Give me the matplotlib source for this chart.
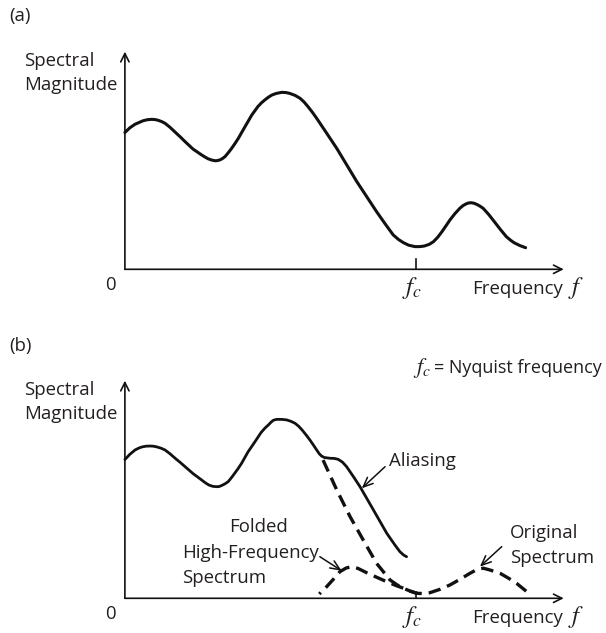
import matplotlib
matplotlib.use("Agg")
import matplotlib.pyplot as plt

plt.rcParams['font.family'] = ['Open Sans', 'DejaVu Sans']
plt.rcParams['mathtext.fontset'] = 'stix'
plt.rcParams['lines.scale_dashes'] = False

# ---------------- data (f in units of fc, magnitude in arbitrary units) -------------
# Panel (a): original spectrum
a_f = [0.000, 0.017, 0.035, 0.062, 0.077, 0.092, 0.103, 0.114, 0.126, 0.138,
       0.155, 0.172, 0.190, 0.207, 0.234, 0.264, 0.276, 0.286, 0.298, 0.310,
       0.318, 0.327, 0.335, 0.344, 0.354, 0.365, 0.378, 0.390, 0.413, 0.436,
       0.457, 0.470, 0.481, 0.493, 0.505, 0.520, 0.539, 0.553, 0.567, 0.585,
       0.602, 0.616, 0.629, 0.644, 0.659, 0.693, 0.728, 0.797, 0.865, 0.895,
       0.922, 0.940, 0.956, 0.975, 0.997, 1.013, 1.028, 1.045, 1.060, 1.075,
       1.090, 1.104, 1.117, 1.134, 1.151, 1.162, 1.172, 1.180, 1.189, 1.200,
       1.210, 1.220, 1.231, 1.250, 1.268, 1.290, 1.311, 1.325, 1.337, 1.357,
       1.377]
a_mag = [0.760, 0.786, 0.806, 0.825, 0.831, 0.833, 0.832, 0.828, 0.821, 0.811,
         0.789, 0.763, 0.736, 0.709, 0.668, 0.635, 0.623, 0.614, 0.607, 0.603,
         0.604, 0.608, 0.615, 0.626, 0.645, 0.668, 0.698, 0.728, 0.793, 0.857,
         0.904, 0.926, 0.941, 0.956, 0.968, 0.977, 0.983, 0.982, 0.977, 0.966,
         0.950, 0.929, 0.904, 0.873, 0.839, 0.757, 0.672, 0.487, 0.320, 0.251,
         0.191, 0.166, 0.149, 0.134, 0.126, 0.126, 0.129, 0.138, 0.153, 0.178,
         0.210, 0.243, 0.274, 0.309, 0.339, 0.354, 0.363, 0.368, 0.370, 0.367,
         0.360, 0.351, 0.339, 0.305, 0.268, 0.222, 0.181, 0.162, 0.148, 0.132,
         0.120]

# Panel (b): aliased spectrum (solid)
b_f = [0.000, 0.017, 0.035, 0.047, 0.059, 0.072, 0.086, 0.098, 0.110, 0.124,
       0.138, 0.155, 0.172, 0.190, 0.207, 0.234, 0.264, 0.277, 0.289, 0.302,
       0.315, 0.324, 0.333, 0.344, 0.355, 0.366, 0.378, 0.390, 0.401, 0.423,
       0.447, 0.468, 0.481, 0.493, 0.502, 0.509, 0.516, 0.522, 0.540, 0.556,
       0.571, 0.585, 0.597, 0.609, 0.623, 0.636, 0.648, 0.659, 0.668, 0.676,
       0.686, 0.705, 0.720, 0.733, 0.748, 0.762, 0.784, 0.808, 0.854, 0.900,
       0.928, 0.945, 0.958, 0.968]
b_mag = [0.771, 0.800, 0.824, 0.834, 0.841, 0.845, 0.846, 0.845, 0.841, 0.834,
         0.824, 0.803, 0.779, 0.755, 0.731, 0.693, 0.657, 0.641, 0.629, 0.622,
         0.620, 0.621, 0.627, 0.636, 0.648, 0.670, 0.696, 0.723, 0.750, 0.813,
         0.870, 0.921, 0.945, 0.963, 0.978, 0.988, 0.992, 0.994, 0.994, 0.991,
         0.983, 0.972, 0.956, 0.935, 0.907, 0.879, 0.851, 0.824, 0.803, 0.790,
         0.782, 0.778, 0.777, 0.772, 0.756, 0.731, 0.679, 0.620, 0.491, 0.361,
         0.296, 0.259, 0.240, 0.231]

# Panel (b): original (unaliased) fall-off, dashed
orig_f = [0.681, 0.728, 0.774, 0.819, 0.865, 0.911, 0.935, 0.957, 0.980, 1.003]
orig_mag = [0.768, 0.602, 0.453, 0.324, 0.194, 0.102, 0.075, 0.056, 0.040, 0.028]

# Panel (b): high-frequency spectrum and its folded image, dashed
fold_f = [0.668, 0.693, 0.716, 0.739, 0.760, 0.779, 0.801, 0.831, 0.865, 0.900,
          0.930, 0.957, 0.980, 1.003, 1.025, 1.048, 1.083, 1.117, 1.150, 1.186,
          1.213, 1.232, 1.255, 1.289, 1.318, 1.346, 1.381]
fold_mag = [0.024, 0.064, 0.105, 0.148, 0.168, 0.176, 0.166, 0.142, 0.117, 0.092,
            0.072, 0.056, 0.040, 0.028, 0.026, 0.031, 0.050, 0.074, 0.104, 0.139,
            0.163, 0.167, 0.157, 0.139, 0.112, 0.083, 0.037]

fc = 1.0
x_end = 1.508
y_end = 1.209

# ---------------- figure ----------------
W, H = 606, 633
fig = plt.figure(figsize=(W / 100, H / 100), dpi=100)
ax_a = fig.add_axes([0, 323 / H, 1, 310 / H])
ax_b = fig.add_axes([0, 0, 1, 323 / H])
ax_a.set_xlim(-0.4292, 1.6533)
ax_a.set_ylim(-0.2261, 1.4961)
ax_b.set_xlim(-0.4292, 1.6533)
ax_b.set_ylim(-0.1928, 1.6017)

TXT = '#231f20'
LINE = '#111111'
FS = 13.4
MFS = 18


def draw_axes(ax, tick_h):
    arr = dict(arrowstyle='->,head_length=0.6,head_width=0.3', lw=1.2,
               color=LINE, shrinkA=0, shrinkB=0, mutation_scale=10)
    ax.annotate('', xy=(x_end, 0), xytext=(0, 0), arrowprops=arr)
    ax.annotate('', xy=(0, y_end), xytext=(0, 0), arrowprops=arr)
    ax.plot([fc, fc], [0, tick_h], color=LINE, lw=1.2)
    ax.text(-0.345, 1.129, 'Spectral', fontsize=FS, color=TXT, va='baseline')
    ax.text(-0.345, 0.994, 'Magnitude', fontsize=FS, color=TXT, va='baseline')
    ax.text(-0.051, -0.117, '0', fontsize=FS, color=TXT, va='baseline', ha='center')
    ax.text(0.986, -0.139, '$f_c$', fontsize=MFS, color=TXT, va='baseline', ha='center')
    ax.text(1.192, -0.139, 'Frequency', fontsize=FS, color=TXT, va='baseline')
    ax.text(1.523, -0.139, '$f$', fontsize=MFS, color=TXT, va='baseline')
    ax.axis('off')


# ---- panel (a)
draw_axes(ax_a, 0.057)
ax_a.plot(a_f, a_mag, color=LINE, lw=2.2, solid_capstyle='round', solid_joinstyle='round')
ax_a.text(-0.396, 1.381, '(a)', fontsize=FS, color=TXT, va='baseline')

# ---- panel (b)
draw_axes(ax_b, 0.035)
ax_b.plot(b_f, b_mag, color=LINE, lw=2.0, solid_capstyle='round', solid_joinstyle='round')
ax_b.plot(orig_f, orig_mag, color=LINE, lw=2.4, linestyle=(0, (9, 5)))
ax_b.plot(fold_f, fold_mag, color=LINE, lw=2.4, linestyle=(7.5, (9, 5)))
ax_b.text(-0.396, 1.376, '(b)', fontsize=FS, color=TXT, va='baseline')
ax_b.text(0.990, 1.253, '$f_c$', fontsize=16, color=TXT, va='baseline')
ax_b.text(1.062, 1.253, '= Nyquist frequency', fontsize=13.0, color=TXT, va='baseline')

ann = dict(arrowstyle='->,head_length=0.7,head_width=0.3', lw=1.1, color=LINE,
           shrinkA=0, shrinkB=0, mutation_scale=10)
ax_b.text(0.906, 0.735, 'Aliasing', fontsize=FS, color=TXT, va='baseline')
ax_b.annotate('', xy=(0.814, 0.611), xytext=(0.894, 0.731), arrowprops=ann)

ax_b.text(0.357, 0.370, 'Folded', fontsize=FS, color=TXT, va='baseline')
ax_b.text(0.195, 0.222, 'High-Frequency', fontsize=FS, color=TXT, va='baseline')
ax_b.text(0.195, 0.083, 'Spectrum', fontsize=FS, color=TXT, va='baseline')
ax_b.annotate('', xy=(0.745, 0.153), xytext=(0.670, 0.231), arrowprops=ann)

ax_b.text(1.322, 0.333, 'Original', fontsize=FS, color=TXT, va='baseline')
ax_b.text(1.322, 0.194, 'Spectrum', fontsize=FS, color=TXT, va='baseline')
ax_b.annotate('', xy=(1.220, 0.176), xytext=(1.295, 0.287), arrowprops=ann)

fig.savefig('out.png', dpi=100)
